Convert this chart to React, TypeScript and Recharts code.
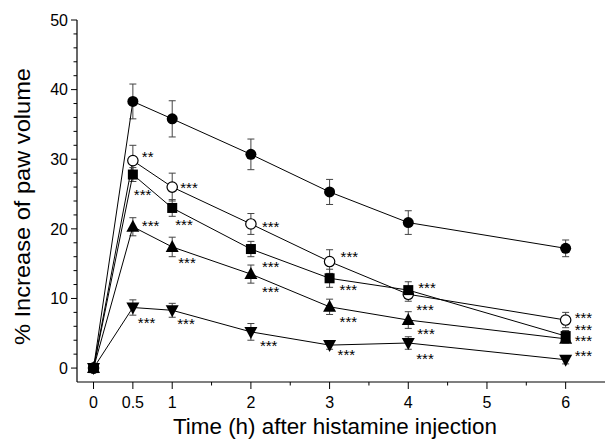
import React from 'react';
import { ComposedChart, Line, XAxis, YAxis, ErrorBar, LabelList } from 'recharts';

// ---- data ----
const times = [0, 0.5, 1, 2, 3, 4, 6];

const controlMean = [0, 38.3, 35.8, 30.7, 25.3, 20.9, 17.2];
const controlSE = [0, 2.5, 2.6, 2.2, 1.8, 1.7, 1.2];
const controlSig = ['', '', '', '', '', '', ''];

const openMean = [0, 29.8, 26.0, 20.7, 15.3, 10.6, 6.9];
const openSE = [0, 2.2, 2.0, 1.5, 1.7, 1.0, 1.1];
const openSig = ['', '**', '***', '***', '***', '***', '***'];

const squareMean = [0, 27.8, 23.0, 17.1, 12.9, 11.2, 4.6];
const squareSE = [0, 1.0, 1.2, 1.1, 1.3, 1.2, 0.8];
const squareSig = ['', '***', '***', '***', '***', '***', '***'];

const triUpMean = [0, 20.3, 17.4, 13.5, 8.8, 6.9, 4.2];
const triUpSE = [0, 1.3, 1.4, 1.3, 1.1, 1.2, 0.6];
const triUpSig = ['', '***', '***', '***', '***', '***', '***'];

const triDownMean = [0, 8.7, 8.3, 5.2, 3.3, 3.6, 1.2];
const triDownSE = [0, 1.1, 1.0, 1.2, 0.6, 0.9, 0.6];
const triDownSig = ['', '***', '***', '***', '***', '***', '***'];

const xTicks = [0, 0.5, 1, 1.5, 2, 2.5, 3, 3.5, 4, 4.5, 5, 5.5, 6];
const xTickLabels = ['0', '0.5', '1', '', '2', '', '3', '', '4', '', '5', '', '6'];
const yTicks = [0, 2, 4, 6, 8, 10, 12, 14, 16, 18, 20, 22, 24, 26, 28, 30, 32, 34, 36, 38, 40, 42, 44, 46, 48, 50];
const yTickLabels = ['0', '', '', '', '', '10', '', '', '', '', '20', '', '', '', '', '30', '', '', '', '', '40', '', '', '', '', '50'];

const xTitle = 'Time (h) after histamine injection';
const yTitle = '% Increase of paw volume';

// ---- layout (label offsets relative to each point, pixels) ----
const openOffsets = [[0, 0], [9, -7], [8, -3], [11, 0], [11, -8], [8, 12], [9, -6]];
const squareOffsets = [[0, 0], [1, 17], [3, 14], [11, 14], [10, 8], [10, -6], [9, -10]];
const triUpOffsets = [[0, 0], [9, -4], [6, 13], [11, 14], [10, 12], [9, 10], [9, -1]];
const triDownOffsets = [[0, 0], [5, 12], [5, 10], [9, 11], [8, 6], [8, 12], [9, -7]];
const noOffsets = [[0, 0], [0, 0], [0, 0], [0, 0], [0, 0], [0, 0], [0, 0]];

const FONT = 'Arial, "Liberation Sans", sans-serif';

const build = (mean: number[], se: number[], sig: string[]) =>
  times.map((t, i) => ({ t, v: mean[i], e: se[i], ann: sig[i] }));

const series = [
  { key: 'control', data: build(controlMean, controlSE, controlSig), shape: 'circle', offsets: noOffsets },
  { key: 'open', data: build(openMean, openSE, openSig), shape: 'open', offsets: openOffsets },
  { key: 'square', data: build(squareMean, squareSE, squareSig), shape: 'square', offsets: squareOffsets },
  { key: 'triUp', data: build(triUpMean, triUpSE, triUpSig), shape: 'triUp', offsets: triUpOffsets },
  { key: 'triDown', data: build(triDownMean, triDownSE, triDownSig), shape: 'triDown', offsets: triDownOffsets },
];

const Marker = (shape: string) => (props: any) => {
  const { cx, cy, index } = props;
  if (cx == null || cy == null) return <g key={`m${index}`} />;
  if (shape === 'circle') return <circle key={`m${index}`} cx={cx} cy={cy} r={5.5} fill="#000" />;
  if (shape === 'open')
    return <circle key={`m${index}`} cx={cx} cy={cy} r={5.2} fill="#fff" stroke="#000" strokeWidth={1.2} />;
  if (shape === 'square')
    return <rect key={`m${index}`} x={cx - 5} y={cy - 5} width={10} height={10} fill="#000" />;
  if (shape === 'triUp')
    return (
      <polygon
        key={`m${index}`}
        points={`${cx},${cy - 7} ${cx + 6.5},${cy + 5} ${cx - 6.5},${cy + 5}`}
        fill="#000"
      />
    );
  return (
    <polygon
      key={`m${index}`}
      points={`${cx},${cy + 7} ${cx + 6.5},${cy - 5} ${cx - 6.5},${cy - 5}`}
      fill="#000"
    />
  );
};

const AnnLabel = (offsets: number[][]) => (props: any) => {
  const { x, y, value, index } = props;
  if (!value) return null;
  const [dx, dy] = offsets[index] || [0, 0];
  return (
    <text x={x + dx} y={y + dy + 8.5} fontSize={15} fontFamily={FONT} fill="#000" textAnchor="start">
      {value}
    </text>
  );
};

const XTick = (props: any) => {
  const { x, y, payload } = props;
  const label = xTickLabels[xTicks.indexOf(payload.value)] ?? '';
  const major = label !== '';
  return (
    <g>
      <line x1={x} y1={y} x2={x} y2={y + (major ? 7 : 3.5)} stroke="#000" strokeWidth={1} />
      {major && (
        <text x={x} y={y + 26} textAnchor="middle" fontSize={16} fontFamily={FONT} fill="#000">
          {label}
        </text>
      )}
    </g>
  );
};

const YTick = (props: any) => {
  const { x, y, payload } = props;
  const label = yTickLabels[yTicks.indexOf(payload.value)] ?? '';
  const major = label !== '';
  return (
    <g>
      <line x1={x - (major ? 6 : 3.5)} y1={y} x2={x} y2={y} stroke="#000" strokeWidth={1} />
      {major && (
        <text x={x - 9} y={y + 5.8} textAnchor="end" fontSize={16} fontFamily={FONT} fill="#000">
          {label}
        </text>
      )}
    </g>
  );
};

const XTitle = (props: any) => {
  const { viewBox } = props;
  const cx = viewBox.x + viewBox.width / 2 - 6;
  return (
    <text
      x={cx}
      y={viewBox.y + 52}
      textAnchor="middle"
      fontSize={22}
      fontFamily={FONT}
      fill="#000"
      textLength={324}
      lengthAdjust="spacingAndGlyphs"
    >
      {xTitle}
    </text>
  );
};

const YTitle = (props: any) => {
  const { viewBox } = props;
  const cy = viewBox.y + viewBox.height / 2 + 5.5;
  const cx = 30;
  return (
    <text
      x={cx}
      y={cy}
      transform={`rotate(-90, ${cx}, ${cy})`}
      textAnchor="middle"
      fontSize={21.5}
      fontFamily={FONT}
      fill="#000"
      textLength={277}
      lengthAdjust="spacingAndGlyphs"
    >
      {yTitle}
    </text>
  );
};

export default function App() {
  return (
    <div style={{ position: 'absolute', left: 0, top: 0, background: '#fff' }}>
      <ComposedChart width={605} height={440} margin={{ top: 20, right: 0, bottom: 0, left: 0 }}>
        <XAxis
          type="number"
          dataKey="t"
          domain={[-0.21, 6.5]}
          ticks={xTicks}
          interval={0}
          allowDataOverflow
          height={58}
          tickSize={0}
          tickMargin={0}
          tickLine={false}
          tick={<XTick />}
          axisLine={{ stroke: '#000', strokeWidth: 1.2 }}
          label={<XTitle />}
        />
        <YAxis
          type="number"
          domain={[-2, 50]}
          ticks={yTicks}
          interval={0}
          allowDataOverflow
          width={77}
          tickSize={0}
          tickMargin={0}
          tickLine={false}
          tick={<YTick />}
          axisLine={{ stroke: '#000', strokeWidth: 1.2 }}
          label={<YTitle />}
        />
        {series.map((s) => (
          <Line
            key={s.key}
            data={s.data}
            dataKey="v"
            type="linear"
            stroke="#000"
            strokeWidth={1}
            isAnimationActive={false}
            dot={Marker(s.shape)}
            activeDot={false}
          >
            <ErrorBar dataKey="e" direction="y" width={3.5} stroke="#444" strokeWidth={1} />
            <LabelList dataKey="ann" content={AnnLabel(s.offsets)} />
          </Line>
        ))}
      </ComposedChart>
    </div>
  );
}
